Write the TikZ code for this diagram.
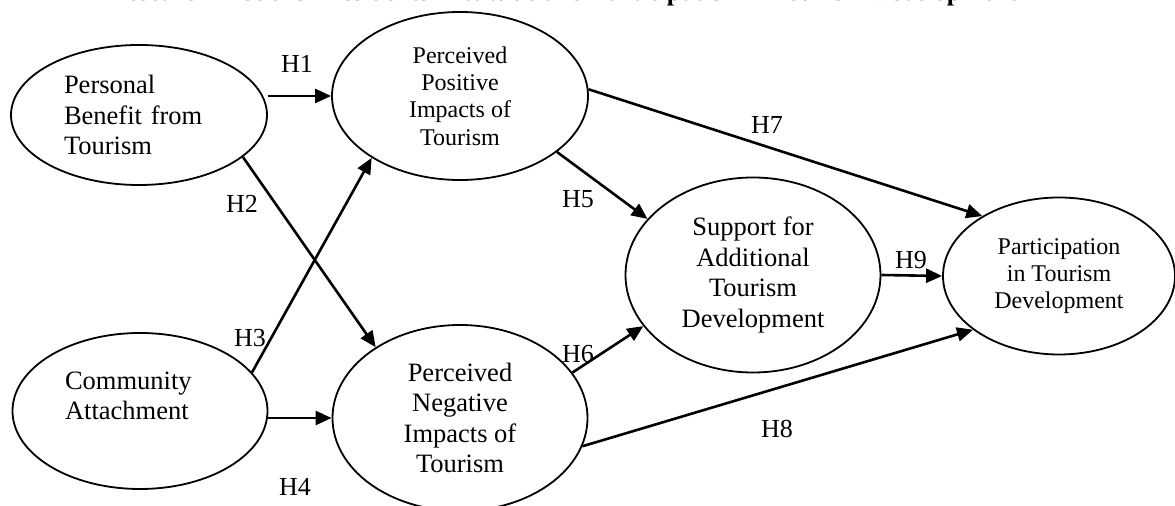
\documentclass[tikz,border=0pt]{standalone}
\usepackage{fontspec}
\setmainfont{Liberation Serif}
\usepackage{tikz}
\usetikzlibrary{shapes, arrows.meta}
\tikzstyle{construct} = [ellipse, draw, line width=0.9pt, inner sep=0pt, align=center, font=\fontsize{13.25}{15.3}\selectfont]
\tikzstyle{smalltext} = [font=\fontsize{12}{13.6}\selectfont]
\tikzstyle{leftblock} = [align=left, text width=75pt]
\tikzstyle{hyp} = [anchor=base, inner sep=0pt, font=\fontsize{13}{15}\selectfont]
\tikzstyle{heading} = [anchor=base, inner sep=0pt, font=\fontsize{13}{15}\selectfont\bfseries]
\tikzstyle{arrow} = [draw, -{Triangle[length=8pt, width=7pt]}, line width=1.3pt]

\begin{document}
\begin{tikzpicture}[x=0.5pt, y=-0.5pt]
    \useasboundingbox (0,0) rectangle (1175,506);
    % title, mostly above the page edge
    \node (title) [heading] at (563,1) {Research Model of Residents' Attitude and Participation in Tourism Development};

    \node (benefit) [construct, leftblock, minimum width=128pt, minimum height=70pt] at (139,115) {Personal\\Benefit from\\Tourism};
    \node (pos_impacts) [construct, smalltext, minimum width=128pt, minimum height=84pt] at (460,96) {Perceived\\Positive\\Impacts of\\Tourism};
    \node (attachment) [construct, leftblock, minimum width=127.5pt, minimum height=78pt] at (140,411) {Community\\Attachment\\\mbox{}};
    \node (neg_impacts) [construct, minimum width=127.5pt, minimum height=93pt] at (460,418) {Perceived\\Negative\\Impacts of\\Tourism};
    \node (support) [construct, minimum width=127.5pt, minimum height=97.5pt] at (753,275) {Support for\\Additional\\Tourism\\Development};
    \node (participation) [construct, smalltext, minimum width=116pt, minimum height=78.5pt] at (1059,276) {Participation\\in Tourism\\Development};

    \draw [arrow] (benefit.east |- pos_impacts.west) -- (pos_impacts.west);
    \draw [arrow] (benefit.-22) -- (neg_impacts.140);
    \draw [arrow] (attachment.19) -- (pos_impacts.215);
    \draw [arrow] (attachment.east |- neg_impacts.west) -- (neg_impacts.west);
    \draw [arrow] (pos_impacts.-30) -- (support.152);
    \draw [arrow] (neg_impacts.22) -- (support.205);
    \draw [arrow] (pos_impacts.3) -- (participation.142);
    \draw [arrow] (neg_impacts.-13) -- (participation.212);
    \draw [arrow] (support.east) -- (participation.west);

    \node (h1) [hyp] at (297,73) {H1};
    \node (h2) [hyp] at (242,213) {H2};
    \node (h3) [hyp] at (250,347) {H3};
    \node (h4) [hyp] at (295,496) {H4};
    \node (h5) [hyp] at (578,208) {H5};
    \node (h6) [hyp] at (578,363) {H6};
    \node (h7) [hyp] at (767,134) {H7};
    \node (h8) [hyp] at (777,438) {H8};
    \node (h9) [hyp] at (911,269) {H9};
\end{tikzpicture}
\end{document}
